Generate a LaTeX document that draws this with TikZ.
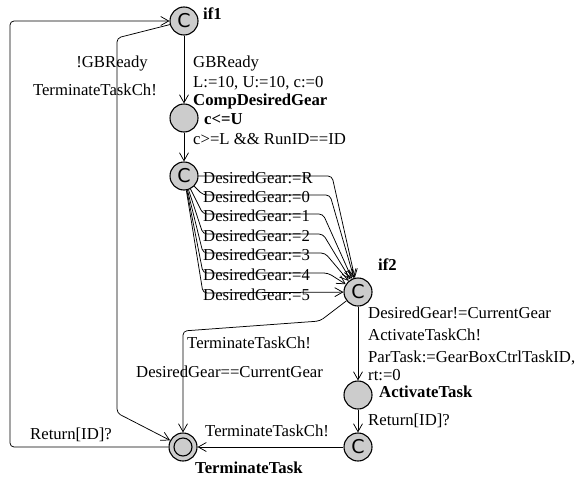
\documentclass[tikz,border=0pt]{standalone}
\usepackage{fontspec}
\setmainfont{Liberation Serif}
\newfontfamily\cfont{DejaVu Sans}
\usetikzlibrary{arrows.meta}
\definecolor{locgray}{gray}{0.8}
\tikzset{
  x=1pt, y=-1pt,
  every node/.style={font=\fontsize{16.7}{20}\selectfont, inner sep=0pt},
  loc/.style={circle, draw, line width=1.1pt, fill=locgray, minimum size=28pt},
  committed/.style={loc, font=\cfont\fontsize{19}{19}\selectfont},
  locname/.style={anchor=base west, font=\fontsize{16.7}{20}\selectfont\bfseries},
  lab/.style={anchor=base west},
  edge/.style={draw, line width=0.75pt, rounded corners=4pt,
    -{Straight Barb[length=8pt,width=9pt,line width=0.75pt]}}
}
\begin{document}
\begin{tikzpicture}
\useasboundingbox (0,0) rectangle (585,479);

% locations
\node[committed] (if1) at (184,21) {C};
\node[loc] (cdg) at (184,118) {};
\node[committed] (sel) at (184,176) {C};
\node[committed] (if2) at (358,292) {C};
\node[loc] (act) at (358,395) {};
\node[committed] (ret) at (358,447) {C};
\node[loc] (tt) at (183,447) {};
\node[circle, draw, line width=1.1pt, minimum size=18pt] (tti) at (tt) {};

% location names and invariants
\node[locname] (nif1) at (203,19) {if1};
\node[locname] (ncdg) at (193,105) {CompDesiredGear};
\node[locname] (inv) at (204,124) {c<=U};
\node[locname] (nif2) at (378,270) {if2};
\node[locname] (nact) at (379,397) {ActivateTask};
\node[locname] (ntt) at (195,473) {TerminateTask};

% if1 -> CompDesiredGear
\draw[edge] (if1) -- (cdg);
\node[lab] (g1) at (193,67) {GBReady};
\node[lab] (a1) at (193,87) {L:=10, U:=10, c:=0};

% CompDesiredGear -> selection
\draw[edge] (cdg) -- (sel);
\node[lab] (g2) at (193,144) {c>=L \&\& RunID==ID};

% selection -> if2, one edge per gear
\foreach \g/\yy/\xe in {R/176/332, 0/195/330, 1/214/323, 2/234/323, 3/253/325, 4/273/328} {
  \coordinate (s\g) at (203,\yy);
  \coordinate (e\g) at (\xe,\yy);
  \draw[edge] (sel) -- (s\g) -- (e\g) -- (if2);
  \node[lab] (l\g) at (203,\yy+7) {DesiredGear:=\g};
}
\coordinate (s5) at (203,293);
\draw[edge] (sel) -- (s5) -- (if2);
\node[lab] (l5) at (203,300) {DesiredGear:=5};

% if2 -> ActivateTask
\draw[edge] (if2) -- (act);
\node[lab] (g3) at (368,318) {DesiredGear!=CurrentGear};
\node[lab] (s3) at (368,340) {ActivateTaskCh!};
\node[lab] (a3) at (368,362) {ParTask:=GearBoxCtrlTaskID,};
\node[lab] (a3b) at (368,380) {rt:=0};

% ActivateTask -> return
\draw[edge] (act) -- (ret);
\node[lab] (s4) at (368,425) {Return[ID]?};

% return -> TerminateTask
\draw[edge] (ret) -- (tt);
\node[lab] (s5l) at (205,436) {TerminateTaskCh!};

% if2 -> TerminateTask
\coordinate (k1) at (320,321);
\coordinate (k2) at (183,331);
\draw[edge] (if2) -- (k1) -- (k2) -- (tt);
\node[lab] (s6) at (187,348) {TerminateTaskCh!};
\node[lab] (g6) at (136,377) {DesiredGear==CurrentGear};

% if1 -> TerminateTask
\coordinate (m1) at (117,38);
\coordinate (m2) at (117,413);
\draw[edge] (if1) -- (m1) -- (m2) -- (tt);
\node[anchor=base east] (g7) at (148,67) {!GBReady};
\node[anchor=base east] (s7) at (157,95) {TerminateTaskCh!};

% TerminateTask -> if1
\coordinate (o1) at (10,447);
\coordinate (o2) at (10,21);
\draw[edge] (tt) -- (o1) -- (o2) -- (if1);
\node[lab] (s8) at (30,439) {Return[ID]?};
\end{tikzpicture}
\end{document}
